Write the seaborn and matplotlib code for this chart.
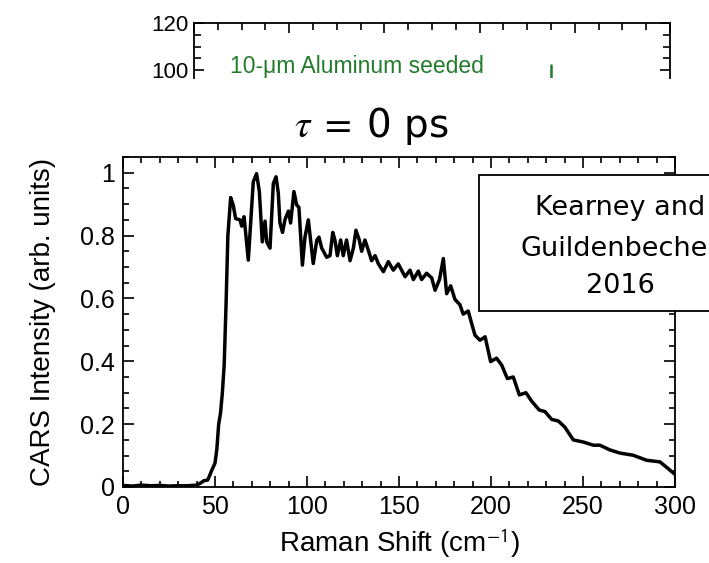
import matplotlib
matplotlib.use("Agg")
import matplotlib.pyplot as plt
from matplotlib.patches import Rectangle
from matplotlib.ticker import MultipleLocator
import seaborn as sns

# spectrum
shift = [0, 5, 10, 15, 20, 25, 30, 35, 40, 42, 44, 46, 47, 48, 50, 51, 52, 53, 54, 55, 56, 57,
         58.5, 59.9, 61.2, 63.6, 64.5, 65.8, 68.1, 70.8, 72.6, 74.1, 75.7, 77.2, 78.1, 79.9,
         81.7, 83.2, 84.4, 85.3, 86.7, 88.0, 89.9, 91.1, 92.9, 94.4, 95.6, 97.5, 98.9, 100.7,
         103.4, 105.3, 106.5, 108.0, 110.7, 112.5, 114.0, 115.2, 116.5, 118.3, 119.7, 121.5,
         123.4, 125.2, 126.6, 128.4, 129.7, 131.5, 133.3, 135.1, 137.0, 138.8, 141.5, 144.2,
         146.9, 149.6, 153.3, 156.0, 157.8, 160.5, 162.3, 165.0, 167.8, 169.6, 172.0, 174.1,
         175.9, 178.1, 180.4, 183.1, 184.9, 187.6, 189.5, 191.3, 194.0, 196.8, 199.8, 203.0,
         205.8, 208.9, 212.1, 215.4, 219.0, 222.1, 226.2, 229.3, 233.0, 236.6, 240.2, 244.7,
         250.2, 255.6, 259.2, 264.6, 270.0, 277.3, 284.6, 291.8, 296.0, 300.0]
intensity = [0.005, 0.003, 0.006, 0.004, 0.005, 0.003, 0.004, 0.004, 0.006, 0.012, 0.02, 0.022,
             0.035, 0.05, 0.076, 0.12, 0.2, 0.235, 0.3, 0.39, 0.58, 0.8,
             0.921, 0.897, 0.854, 0.85, 0.83, 0.86, 0.722, 0.971, 0.997, 0.94, 0.78, 0.846, 0.78,
             0.76, 0.966, 0.987, 0.935, 0.84, 0.81, 0.85, 0.878, 0.84, 0.94, 0.897, 0.89, 0.706,
             0.795, 0.85, 0.711, 0.785, 0.795, 0.76, 0.731, 0.736, 0.81, 0.785, 0.736, 0.786,
             0.736, 0.786, 0.72, 0.76, 0.817, 0.786, 0.75, 0.786, 0.754, 0.72, 0.736, 0.71,
             0.685, 0.717, 0.69, 0.71, 0.669, 0.69, 0.66, 0.687, 0.66, 0.68, 0.665, 0.626, 0.66,
             0.727, 0.615, 0.64, 0.597, 0.58, 0.55, 0.56, 0.52, 0.483, 0.467, 0.478, 0.399, 0.41,
             0.388, 0.345, 0.35, 0.293, 0.3, 0.273, 0.245, 0.24, 0.215, 0.21, 0.19, 0.15, 0.143,
             0.133, 0.133, 0.118, 0.108, 0.101, 0.085, 0.08, 0.06, 0.04]

# bit of the upper panel that shows above the cut
top_yticks = [100, 120]
green_x = [15, 15]
green_y = [96.6, 102.0]

sns.set_theme(style="ticks")
plt.rcParams['font.family'] = ['Liberation Sans', 'DejaVu Sans']
plt.rcParams['mathtext.fontset'] = 'stix'
for k in ["text.color", "axes.labelcolor", "xtick.color", "ytick.color", "axes.edgecolor"]:
    plt.rcParams[k] = "black"

W, H = 709, 563
fig = plt.figure(figsize=(W / 100, H / 100), dpi=100)
fig.patch.set_facecolor("white")


def fx(px):
    return px / W


def fy(py):
    return 1 - py / H


# upper (cut off) panel
ax_top = fig.add_axes([fx(194), fy(78), fx(670) - fx(194), fy(23) - fy(78)])
sns.lineplot(x=green_x, y=green_y, color="#237b2c", lw=1.8, estimator=None, sort=False,
             ax=ax_top)
ax_top.set_xlim(0, 20)
ax_top.set_ylim(96.6, 120)
ax_top.spines["bottom"].set_visible(False)
for s in ["top", "left", "right"]:
    ax_top.spines[s].set_linewidth(1.3)
ax_top.set_yticks(top_yticks)
ax_top.yaxis.set_minor_locator(MultipleLocator(5))
ax_top.xaxis.set_major_locator(MultipleLocator(4))
ax_top.xaxis.set_minor_locator(MultipleLocator(1))
ax_top.tick_params(which="both", direction="in", top=True, bottom=False, right=True, left=True,
                   labelbottom=False, labelsize=16, width=1.2, pad=4)
ax_top.tick_params(which="major", length=7)
ax_top.tick_params(which="minor", length=5)
ax_top.set_xlabel("")
ax_top.set_ylabel("")
ax_top.text(0.075, 0.2, "10-\u03bcm Aluminum seeded", transform=ax_top.transAxes,
            color="#237b2c", fontsize=16.5, va="center", ha="left")

# main panel
ax = fig.add_axes([fx(123), fy(487), fx(675) - fx(123), fy(157) - fy(487)])
sns.lineplot(x=shift, y=intensity, color="black", lw=2.5, ax=ax)
ax.set_xlim(0, 300)
ax.set_ylim(0, 1.05)
ax.set_xticks([0, 50, 100, 150, 200, 250, 300])
ax.set_yticks([0, 0.2, 0.4, 0.6, 0.8, 1.0])
ax.set_yticklabels(["0", "0.2", "0.4", "0.6", "0.8", "1"])
ax.xaxis.set_minor_locator(MultipleLocator(10))
ax.yaxis.set_minor_locator(MultipleLocator(0.05))
ax.tick_params(which="both", direction="in", top=True, right=True, labelsize=18,
               width=1.2, pad=6)
ax.tick_params(which="major", length=8)
ax.tick_params(which="minor", length=4.5)
for s in ax.spines.values():
    s.set_linewidth(1.3)
ax.set_xlabel("Raman Shift (cm$^{\\mathsf{-1}}$)", fontsize=20, labelpad=5)
ax.set_ylabel("CARS Intensity (arb. units)", fontsize=20, labelpad=17)

fig.text(fx(371), fy(126), r"$\tau\ =\ $" + "0 ps", fontsize=28, ha="center", va="center",
         family=["DejaVu Sans"])

# label box, runs past the right edge like in the source figure
box = Rectangle((fx(479), fy(311)), fx(740) - fx(479), fy(175) - fy(311),
                transform=fig.transFigure, facecolor="white", edgecolor="black",
                lw=1.3, zorder=5)
fig.patches.append(box)
for line, yb in [("Kearney and", 215), ("Guildenbecher", 256), ("2016", 293)]:
    fig.text(fx(620), fy(yb), line, fontsize=19.5, ha="center", va="baseline",
             family=["DejaVu Sans"], zorder=6)

fig.savefig("out.png", dpi=100)
